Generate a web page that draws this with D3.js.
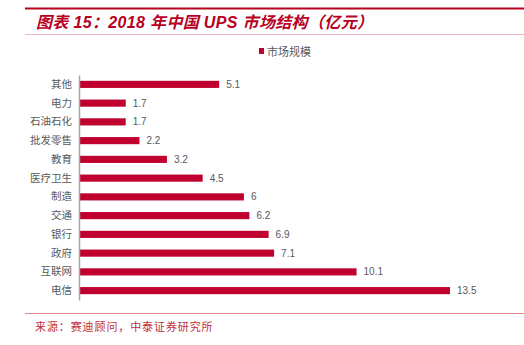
<!DOCTYPE html>
<html><head><meta charset="utf-8">
<script src="https://cdn.jsdelivr.net/npm/d3@7"></script>
<style>body{margin:0;background:#fff;} svg{display:block;}</style>
</head><body>
<script>
const categories = ["其他","电力","石油石化","批发零售","教育","医疗卫生","制造","交通","银行","政府","互联网","电信"];
const values = [5.1,1.7,1.7,2.2,3.2,4.5,6,6.2,6.9,7.1,10.1,13.5];
const seriesName = "市场规模";
const titleText = "图表 15：2018 年中国 UPS 市场结构（亿元）";
const sourceText = "来源：赛迪顾问，中泰证券研究所";

const W = 524, H = 345;
const svg = d3.select("body").append("svg").attr("width", W).attr("height", H);
const font = "'Noto Sans CJK SC', 'Noto Sans', sans-serif";
const barColor = "#C0002E";

// header lines
svg.append("line").attr("x1",25).attr("x2",W).attr("y1",8.5).attr("y2",8.5).attr("stroke","#B8001F").attr("stroke-width",2);
svg.append("line").attr("x1",25).attr("x2",W).attr("y1",34.5).attr("y2",34.5).attr("stroke","#F0B8BC").attr("stroke-width",1);
svg.append("text").attr("x",36).attr("y",28).text(titleText)
  .attr("font-family","'Liberation Sans', 'Noto Sans CJK SC', sans-serif").attr("font-size",16).attr("font-weight","bold").attr("font-style","italic")
  .attr("fill","#B8001F").attr("textLength",337).attr("lengthAdjust","spacing");

// legend
svg.append("rect").attr("x",259).attr("y",48).attr("width",5).attr("height",6).attr("fill",barColor);
svg.append("text").attr("x",267).attr("y",55.5).text(seriesName).attr("font-family",font).attr("font-size",11).attr("fill","#595959");

const x = d3.scaleLinear().domain([0,13.5]).range([79,450]);
const y = d3.scaleBand().domain(categories).range([75,300]).paddingInner(0.62).paddingOuter(0.31);

const g = svg.append("g");
g.selectAll("rect.bar").data(values).join("rect").attr("class","bar")
  .attr("x",x(0)).attr("y",(d,i)=>y(categories[i]))
  .attr("width",d=>x(d)-x(0)).attr("height",y.bandwidth())
  .attr("fill",barColor);

g.selectAll("text.val").data(values).join("text").attr("class","val")
  .attr("x",d=>x(d)+7).attr("y",(d,i)=>y(categories[i])+y.bandwidth()/2)
  .attr("dy","0.35em").text(d=>d).attr("font-family","'Liberation Sans', Arial, sans-serif")
  .attr("font-size",10).attr("fill","#595959");

const axis = d3.axisLeft(y).tickSize(0).tickPadding(7);
const ag = svg.append("g").attr("transform",`translate(${x(0)},0)`).call(axis);
ag.select(".domain").attr("stroke","#A6A6A6").attr("stroke-width",1.5);
ag.selectAll("text").attr("font-family",font).attr("font-size",10.5).attr("fill","#595959");

// footer
svg.append("line").attr("x1",25).attr("x2",W).attr("y1",313.5).attr("y2",313.5).attr("stroke","#E5868C").attr("stroke-width",1);
svg.append("text").attr("x",35).attr("y",331).text(sourceText).attr("font-family",font).attr("font-size",11).attr("fill","#C0303A").attr("letter-spacing",0.9);
</script>
</body></html>
